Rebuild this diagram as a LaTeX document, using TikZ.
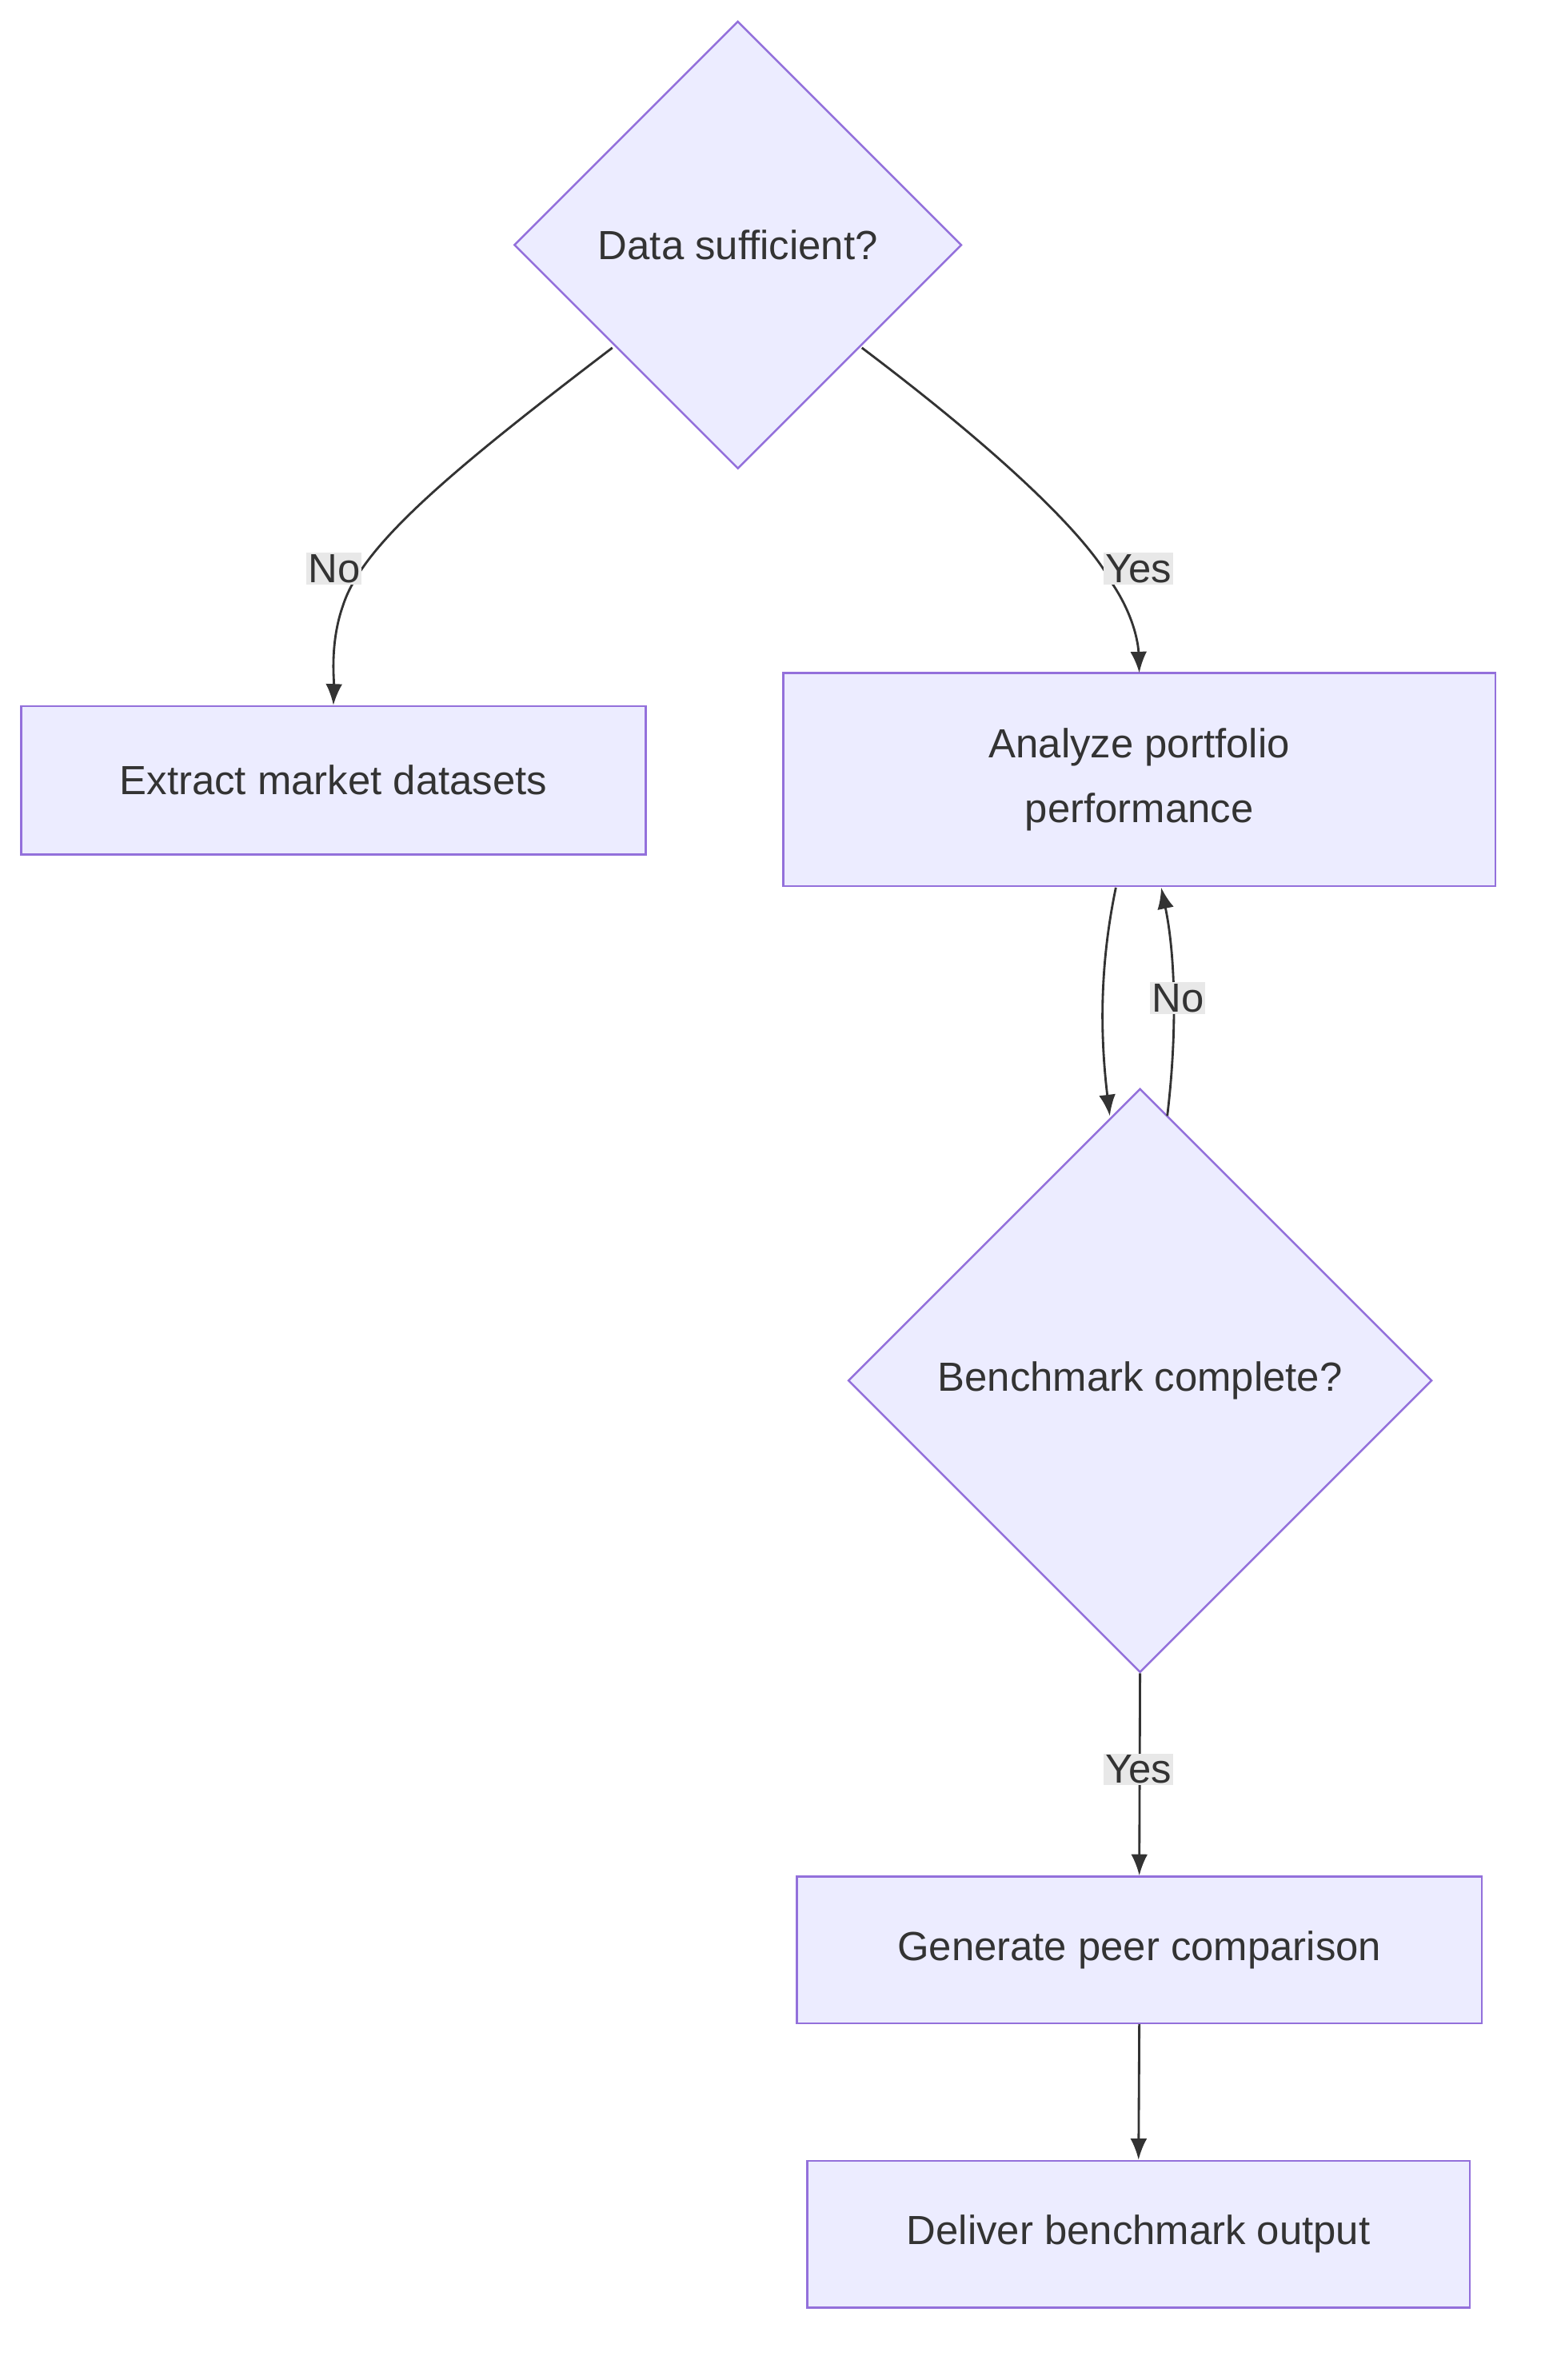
\documentclass[tikz,border=0pt]{standalone}
\usepackage{fontspec}
\setmainfont{Liberation Sans}
\usetikzlibrary{shapes.geometric,arrows.meta}
\definecolor{nfill}{HTML}{ECECFF}
\definecolor{nstroke}{HTML}{9370DB}
\definecolor{tcol}{HTML}{333333}
\definecolor{lbg}{HTML}{E8E8E8}
\begin{document}
\begin{tikzpicture}[x=1bp,y=-1bp,
  every node/.style={text=tcol,font=\fontsize{27}{43}\selectfont},
  box/.style={draw=nstroke,fill=nfill,line width=1.3bp,rectangle,inner sep=0},
  dia/.style={draw=nstroke,fill=nfill,line width=1.3bp,diamond,aspect=1,inner sep=0},
  edge/.style={draw=tcol,line width=1.5bp,-{Latex[length=14bp,width=11bp]}},
  lab/.style={fill=lbg,inner sep=1bp}]
\useasboundingbox (0,0) rectangle (1024,1574);
\node[dia,minimum size=296bp] (d1) at (488,162) {Data sufficient?};
\node[box,minimum width=413bp,minimum height=98bp] (ex) at (220.5,516) {Extract market datasets};
\node[box,minimum width=471bp,minimum height=141bp,align=center] (an) at (753.5,515.5) {Analyze portfolio\\performance};
\node[dia,minimum size=386bp] (d2) at (754,913) {Benchmark complete?};
\node[box,minimum width=453bp,minimum height=97bp] (ge) at (753.5,1289.5) {Generate peer comparison};
\node[box,minimum width=438bp,minimum height=97bp] (de) at (753,1477.5) {Deliver benchmark output};
\coordinate (a1) at (405,230);
\coordinate (a2) at (570,230);
\draw[edge] (a1) .. controls (300,310) and (240,360) .. (227,400) .. controls (218,425) and (221,450) .. (ex.north);
\draw[edge] (a2) .. controls (676,310) and (722,360) .. (735,385) .. controls (752,410) and (753,430) .. (753.5,445);
\draw[edge] (738,587) .. controls (728,635) and (727,680) .. (734,738);
\draw[edge] (772,738) .. controls (779,680) and (777,630) .. (768,587);
\draw[edge] (d2.south) -- (ge.north);
\draw[edge] (ge.south) -- (de.north);
\node[lab] at (221,376) {No};
\node[lab] at (753,376) {Yes};
\node[lab] at (779,660) {No};
\node[lab] at (753,1170) {Yes};
\end{tikzpicture}
\end{document}
